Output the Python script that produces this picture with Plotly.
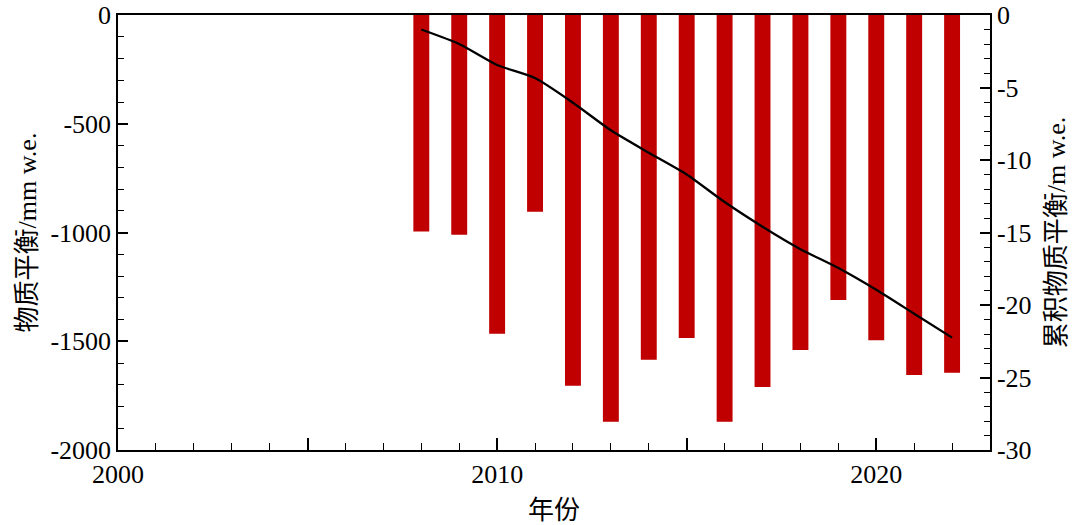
import plotly.graph_objects as go

years = [2008, 2009, 2010, 2011, 2012, 2013, 2014, 2015, 2016, 2017, 2018, 2019, 2020, 2021, 2022]
annual_balance_mm = [-995, -1010, -1465, -905, -1705, -1870, -1585, -1485, -1870, -1710, -1540, -1310, -1495, -1655, -1645]
cumulative_balance_m = [-1.0, -2.0, -3.45, -4.35, -6.05, -7.95, -9.5, -11.0, -12.9, -14.6, -16.15, -17.45, -18.95, -20.6, -22.25]

x_tickvals = [2000, 2005, 2010, 2015, 2020]
x_ticktext = ["2000", "", "2010", "", "2020"]
left_tickvals = [0, -500, -1000, -1500, -2000]
left_ticktext = ["0", "-500", "-1000", "-1500", "-2000"]
right_tickvals = [0, -5, -10, -15, -20, -25, -30]
right_ticktext = ["0", "-5", "-10", "-15", "-20", "-25", "-30"]

FONT = "Liberation Serif, Times New Roman, Noto Sans CJK SC, serif"
FS = 26

fig = go.Figure()
fig.add_trace(go.Bar(x=years, y=annual_balance_mm, width=0.42,
                     marker=dict(color="#C00000", line=dict(width=0)),
                     yaxis="y", showlegend=False))
fig.add_trace(go.Scatter(x=years, y=cumulative_balance_m, mode="lines",
                         line=dict(color="black", width=2.3, shape="spline", smoothing=0.6),
                         yaxis="y2", showlegend=False))

fig.update_layout(
    width=1080, height=525,
    margin=dict(l=118, r=90, t=15, b=75, autoexpand=False),
    plot_bgcolor="white", paper_bgcolor="white",
    font=dict(family=FONT, size=FS, color="black"),
    xaxis=dict(range=[2000, 2023], tickvals=x_tickvals, ticktext=x_ticktext,
               ticks="inside", ticklen=12, tickwidth=1.5, tickcolor="black",
               minor=dict(dtick=1, ticks="inside", ticklen=7, tickwidth=1.2, tickcolor="black"),
               showline=True, linecolor="black", linewidth=1.5, mirror=True,
               showgrid=False, zeroline=False, automargin=False,
               title=dict(text="年份", font=dict(size=FS), standoff=14),
               tickfont=dict(size=FS)),
    yaxis=dict(range=[-2000, 0], tickvals=left_tickvals, ticktext=left_ticktext,
               ticks="inside", ticklen=10, tickwidth=1.5, tickcolor="black",
               minor=dict(dtick=100, ticks="inside", ticklen=6, tickwidth=1.2, tickcolor="black"),
               showline=True, linecolor="black", linewidth=1.5, mirror=True,
               showgrid=False, zeroline=False, automargin=False,
               title=dict(text="物质平衡/mm w.e.", font=dict(size=FS), standoff=6),
               tickfont=dict(size=FS)),
    yaxis2=dict(range=[-30, 0], tickvals=right_tickvals, ticktext=right_ticktext,
                overlaying="y", side="right",
                ticks="inside", ticklen=10, tickwidth=1.5, tickcolor="black",
                minor=dict(dtick=1, ticks="inside", ticklen=6, tickwidth=1.2, tickcolor="black"),
                showline=True, linecolor="black", linewidth=1.5,
                showgrid=False, zeroline=False, automargin=False,
                title=dict(text="累积物质平衡/m w.e.", font=dict(size=FS), standoff=16),
                tickfont=dict(size=FS)),
)

fig.write_html("out.html", config={"displayModeBar": False},
               post_script="document.body.style.margin='0';")
